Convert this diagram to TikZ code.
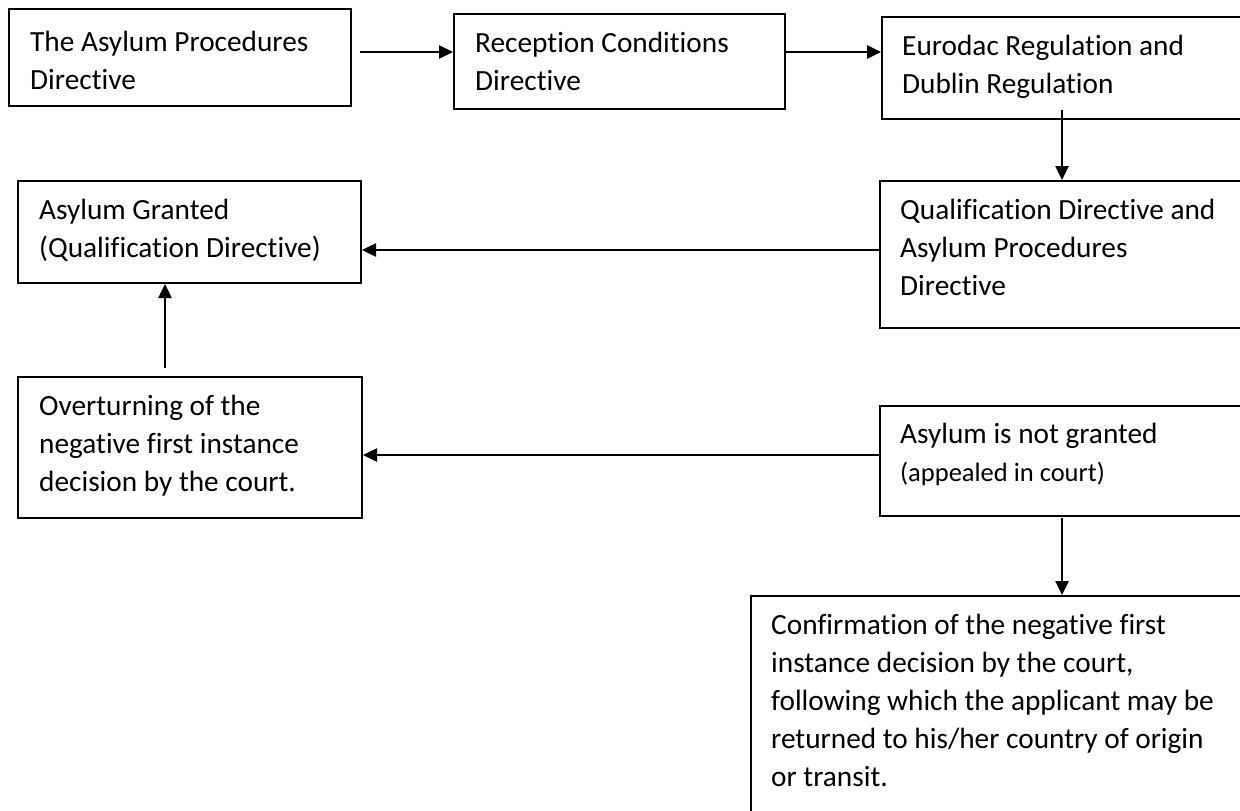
\documentclass[tikz,border=0pt]{standalone}
\usepackage{fontspec}
\setmainfont{Carlito}[Ligatures={NoCommon}]
\usetikzlibrary{arrows.meta}
\begin{document}
\begin{tikzpicture}[x=1pt,y=-1pt,
  box/.style={draw=black,line width=2pt,anchor=north west,inner sep=0pt},
  txt/.style={anchor=base west,inner sep=0pt,align=flush left,text width=480pt,font=\fontsize{29.3}{38}\selectfont},
  arr/.style={line width=2.5pt,-{Triangle[length=14pt,width=13pt]}}]
\useasboundingbox (0,0) rectangle (1240,811);
\clip (0,0) rectangle (1240,811);
% boxes
\node[box,minimum width=342pt,minimum height=97pt] (b1) at (8,8) {};
\node[box,minimum width=331pt,minimum height=95pt] (b2) at (453,13) {};
\node[box,minimum width=380pt,minimum height=102pt] (b3) at (881,16) {};
\node[box,minimum width=380pt,minimum height=147pt] (b4) at (879,180) {};
\node[box,minimum width=343pt,minimum height=102pt] (b5) at (17,180) {};
\node[box,minimum width=344pt,minimum height=141pt] (b6) at (17,376) {};
\node[box,minimum width=380pt,minimum height=110pt] (b7) at (879,405) {};
\node[box,minimum width=520pt,minimum height=240pt] (b8) at (750,595) {};
% texts
\node[txt] (t1) at (30,51) {The Asylum Procedures\\Directive};
\node[txt] (t2) at (475,52) {Reception Conditions\\Directive};
\node[txt] (t3) at (902,55) {Eurodac Regulation and\\Dublin Regulation};
\node[txt] (t4) at (900,219) {Qualification Directive and\\Asylum Procedures\\Directive};
\node[txt] (t5) at (39,219) {Asylum Granted\\(Qualification Directive)};
\node[txt] (t6) at (39,415) {Overturning of the\\negative first instance\\decision by the court.};
\node[txt] (t7) at (900,443) {Asylum is not granted\\{\fontsize{26.5}{38}\selectfont (appealed in court)}};
\node[txt] (t8) at (771,634) {Confirmation of the negative first\\instance decision by the court,\\following which the applicant may be\\returned to his/her country of origin\\or transit.};
% connectors
\coordinate (s1) at (360,52);
\coordinate (y4) at (0,250);
\coordinate (y6) at (0,455);
\coordinate (s3) at (1062,110);
\coordinate (s5) at (165,368);
\coordinate (s7) at (1062,518);
\draw[arr] (s1) -- (s1 -| b2.west);
\draw[arr] (b2.east |- s1) -- (b3.west |- s1);
\draw[arr] (s3) -- (s3 |- b4.north);
\draw[arr] (b4.west |- y4) -- (b5.east |- y4);
\draw[arr] (s5) -- (s5 |- b5.south);
\draw[arr] (b7.west |- y6) -- (b6.east |- y6);
\draw[arr] (s7) -- (s7 |- b8.north);
\end{tikzpicture}
\end{document}
